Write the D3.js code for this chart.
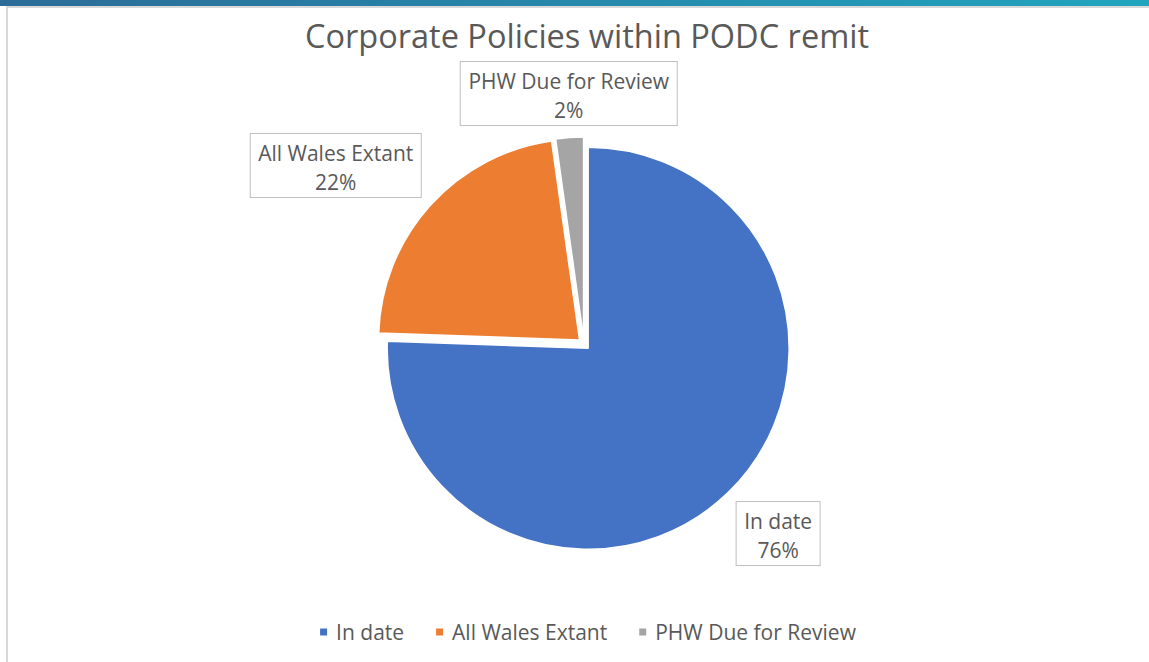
<!DOCTYPE html>
<html>
<head>
<meta charset="utf-8">
<script src="https://cdn.jsdelivr.net/npm/d3@7"></script>
<style>
  html, body { margin: 0; padding: 0; background: #fff; }
  svg { display: block; font-family: "Open Sans", "Noto Sans", sans-serif; }
</style>
</head>
<body>
<svg id="chart"></svg>
<script>
// chart data
const categories = ['In date', 'All Wales Extant', 'PHW Due for Review'];
const counts = [34, 10, 1];            // read as 76% / 22% / 2%
const percentLabels = ['76%', '22%', '2%'];
const sliceColors = ['#4472C4', '#ED7D31', '#A5A5A5'];
const chartTitle = 'Corporate Policies within PODC remit';

const WIDTH = 1149, HEIGHT = 662;
const TEXT_COLOR = '#595959';

const svg = d3.select('#chart').attr('width', WIDTH).attr('height', HEIGHT);

// top banner + frame
const defs = svg.append('defs');
const grad = defs.append('linearGradient').attr('id', 'banner').attr('x1', 0).attr('x2', 1);
grad.append('stop').attr('offset', 0).attr('stop-color', '#2b6c98');
grad.append('stop').attr('offset', 1).attr('stop-color', '#21a5bf');
svg.append('rect').attr('x', 0).attr('y', 0).attr('width', WIDTH).attr('height', 6).attr('fill', 'url(#banner)');
svg.append('rect').attr('x', 6).attr('y', 6).attr('width', WIDTH - 6).attr('height', 2).attr('fill', '#d9d9d9');
svg.append('rect').attr('x', 6).attr('y', 6).attr('width', 2).attr('height', HEIGHT - 6).attr('fill', '#d9d9d9');

// title
svg.append('text')
  .attr('x', 587).attr('y', 48)
  .attr('text-anchor', 'middle')
  .attr('fill', TEXT_COLOR)
  .attr('font-size', 32.5)
  .text(chartTitle);

// pie
const cx = 584, cy = 344, radius = 201, explode = 6;
const pie = d3.pie().sort(null).value(d => d)(counts);
const arc = d3.arc().innerRadius(0).outerRadius(radius);

const g = svg.append('g').attr('transform', `translate(${cx},${cy})`);

function dirOf(d) {
  const a = (d.startAngle + d.endAngle) / 2;
  return [Math.sin(a), -Math.cos(a)];
}

g.selectAll('path.slice')
  .data(pie)
  .enter().append('path')
  .attr('class', 'slice')
  .attr('d', arc)
  .attr('transform', d => { const [dx, dy] = dirOf(d); return `translate(${dx * explode},${dy * explode})`; })
  .attr('fill', (d, i) => sliceColors[i])
  .attr('stroke', '#fff')
  .attr('stroke-width', 1.5)
  .attr('stroke-linejoin', 'round');

// data labels (boxed, outside end)
const labelR = radius + 18;
const LABEL_SIZE = 21, LINE_H = 29, PAD_X = 8;
const labels = g.selectAll('g.label').data(pie).enter().append('g').attr('class', 'label');

labels.each(function (d, i) {
  const sel = d3.select(this);
  const rect = sel.append('rect')
    .attr('fill', '#fff')
    .attr('stroke', '#bfbfbf')
    .attr('stroke-width', 1);
  const t1 = sel.append('text').attr('text-anchor', 'middle').attr('fill', TEXT_COLOR)
    .attr('font-size', LABEL_SIZE).text(categories[i]);
  const t2 = sel.append('text').attr('text-anchor', 'middle').attr('fill', TEXT_COLOR)
    .attr('font-size', LABEL_SIZE).text(percentLabels[i]);
  const tw = Math.max(t1.node().getComputedTextLength(), t2.node().getComputedTextLength());
  const w = Math.round(tw + 2 * PAD_X), h = 2 * LINE_H + 6;

  const [dx, dy] = dirOf(d);
  const ax = dx * labelR, ay = dy * labelR;
  const fx = dx > 0.3 ? 0 : dx < -0.3 ? 1 : 0.5;
  const fy = dy > 0.3 ? 0 : dy < -0.3 ? 1 : 0.5;
  const left = ax - fx * w, top = ay - fy * h;

  rect.attr('x', left).attr('y', top).attr('width', w).attr('height', h);
  t1.attr('x', left + w / 2).attr('y', top + 5 + LINE_H * 0.5 + LABEL_SIZE * 0.36);
  t2.attr('x', left + w / 2).attr('y', top + 5 + LINE_H * 1.5 + LABEL_SIZE * 0.36);
});

// legend
const legend = svg.append('g').attr('class', 'legend');
const MARK = 7, MARK_GAP = 9, ITEM_GAP = 32, LEGEND_Y = 632;
let xPos = 0;
categories.forEach((c, i) => {
  const item = legend.append('g').attr('transform', `translate(${xPos},0)`);
  item.append('rect')
    .attr('x', 0).attr('y', LEGEND_Y - MARK / 2)
    .attr('width', MARK).attr('height', MARK)
    .attr('fill', sliceColors[i]);
  const t = item.append('text')
    .attr('x', MARK + MARK_GAP).attr('y', LEGEND_Y + LABEL_SIZE * 0.36)
    .attr('fill', TEXT_COLOR)
    .attr('font-size', LABEL_SIZE)
    .text(c);
  xPos += MARK + MARK_GAP + t.node().getComputedTextLength() + ITEM_GAP;
});
const legendW = xPos - ITEM_GAP;
legend.attr('transform', `translate(${588 - legendW / 2},0)`);
</script>
</body>
</html>
